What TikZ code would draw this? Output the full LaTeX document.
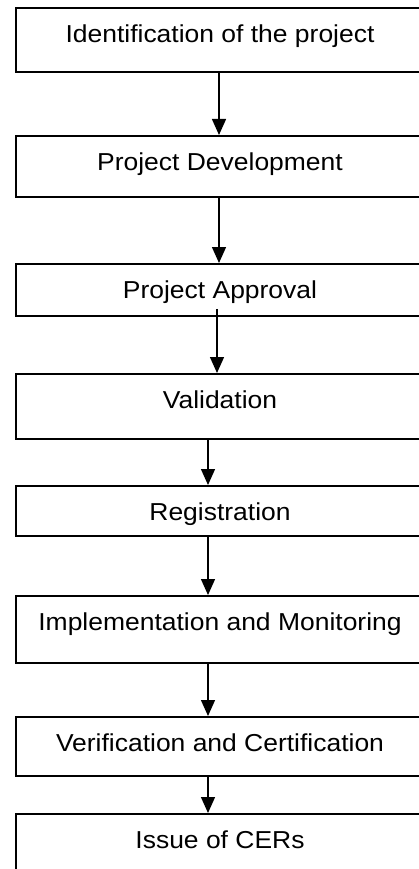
\documentclass[tikz,border=0pt]{standalone}
\usepackage{fontspec}
\setmainfont[FakeStretch=1.08]{Liberation Sans}
\usetikzlibrary{arrows.meta}
\tikzset{arrow/.style = {line width=1.4pt,-{Triangle[length=16pt,width=14pt]}}}
\tikzset{stage/.style = {draw, line width=1.8pt, anchor=north, minimum width=408pt,
  inner xsep=0pt, inner ysep=0pt, text height=35pt, font=\fontsize{24.5}{29}\selectfont}}

\begin{document}
\begin{tikzpicture}[x=1pt,y=-1pt]
\useasboundingbox (0,0) rectangle (419,869);
\clip (0,0) rectangle (419,869);

\node[stage, text depth=29pt] (ident) at (220,7) {Identification of the project};
\node[stage, text depth=26pt] (devel) at (220,135) {Project Development};
\node[stage, text depth=17pt] (approv) at (220,263) {Project Approval};
\node[stage, text depth=30pt] (valid) at (220,373) {Validation};
\node[stage, text depth=15pt] (regist) at (220,485) {Registration};
\node[stage, text depth=32pt] (implem) at (220,595) {Implementation and Monitoring};
\node[stage, text depth=24pt] (verif) at (220,716) {Verification and Certification};
\node[stage, text depth=35pt] (issue) at (220,813) {Issue of CERs};

\draw[arrow] ([xshift=-1pt]ident.south) -- ([xshift=-1pt]devel.north);
\draw[arrow] ([xshift=-1pt]devel.south) -- ([xshift=-1pt]approv.north);
\draw[arrow] ([xshift=-3pt,yshift=8pt]approv.south) -- ([xshift=-3pt]valid.north);

\draw[arrow] ([xshift=-12pt]valid.south) -- ([xshift=-12pt]regist.north);
\draw[arrow] ([xshift=-12pt]regist.south) -- ([xshift=-12pt]implem.north);
\draw[arrow] ([xshift=-12pt]implem.south) -- ([xshift=-12pt]verif.north);
\draw[arrow] ([xshift=-12pt]verif.south) -- ([xshift=-12pt]issue.north);
\end{tikzpicture}
\end{document}
